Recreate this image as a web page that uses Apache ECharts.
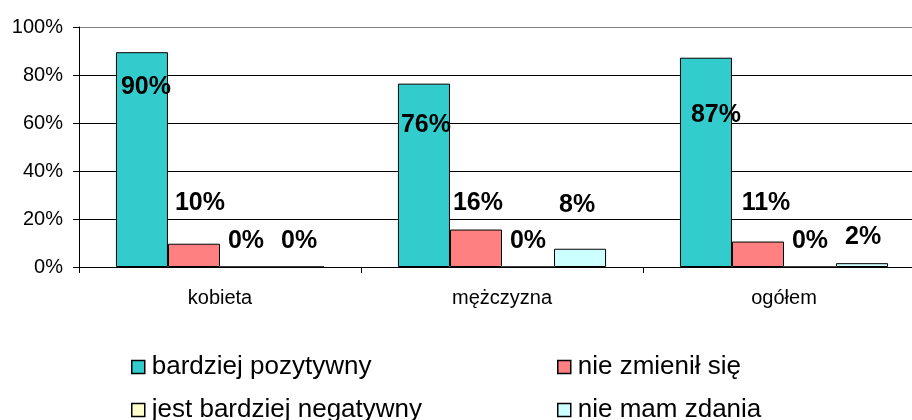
<!DOCTYPE html>
<html>
<head>
<meta charset="utf-8">
<script src="https://cdn.jsdelivr.net/npm/echarts@6/dist/echarts.min.js"></script>
<style>
html,body{margin:0;padding:0;background:#fff;}
#chart{width:912px;height:420px;}
</style>
</head>
<body>
<div id="chart"></div>
<script>
// ---- data ----
const categories = ['kobieta', 'mężczyzna', 'ogółem'];
const seriesNames = ['bardziej pozytywny', 'nie zmienił się', 'jest bardziej negatywny', 'nie mam zdania'];
const bardziejPozytywny = [89.5, 76.4, 87.2];
const nieZmienilSie = [9.7, 15.6, 10.6];
const bardziejNegatywny = [0, 0, 0];
const nieMamZdania = [0, 7.6, 1.6];
const yTicks = [0, 20, 40, 60, 80, 100];

// ---- layout / style (not data) ----
const colors = ['#33CCCC', '#FF8080', '#FFFFCC', '#CCFFFF'];
// label offsets [dx, dy] relative to the 'top' position of each bar
const labelOffsets = [
  [[4, 47], [2, 54], [10, 70]],
  [[6, -28], [2, -14], [8, -26]],
  [[0, -13], [0, -13], [0, -13]],
  [[1, -13], [-3, -31], [1, -14]]
];
const FONT = 'Arial, "Liberation Sans", sans-serif';

const allValues = [bardziejPozytywny, nieZmienilSie, bardziejNegatywny, nieMamZdania];

const series = allValues.map((vals, si) => ({
  name: seriesNames[si],
  type: 'bar',
  barGap: '0%',
  barCategoryGap: '26.2%',
  itemStyle: { color: colors[si], borderColor: '#000', borderWidth: 1 },
  data: vals.map((v, ci) => ({
    value: v,
    label: { offset: labelOffsets[si][ci] }
  })),
  label: {
    show: true,
    position: 'top',
    distance: 0,
    fontFamily: FONT,
    fontSize: 25,
    fontWeight: 'bold',
    color: '#000',
    formatter: p => Math.round(p.value) + '%'
  }
}));

const legendCommon = {
  top: 354,
  height: 100,
  orient: 'vertical',
  padding: 0,
  itemWidth: 13,
  itemHeight: 13,
  itemGap: 17,
  icon: 'rect',
  itemStyle: { borderColor: '#000', borderWidth: 1.5 },
  textStyle: { fontFamily: FONT, fontSize: 26, color: '#000', padding: [0, 0, 0, 2] }
};

const chart = echarts.init(document.getElementById('chart'), null, { renderer: 'canvas' });
chart.setOption({
  animation: false,
  backgroundColor: '#fff',
  color: colors,
  grid: { left: 79, width: 846, top: 27, height: 240, containLabel: false, outerBoundsMode: 'none' },
  legend: [
    Object.assign({}, legendCommon, { left: 131, data: [seriesNames[0], seriesNames[2]] }),
    Object.assign({}, legendCommon, { left: 557, data: [seriesNames[1], seriesNames[3]] })
  ],
  xAxis: {
    type: 'category',
    data: categories,
    axisLine: { lineStyle: { color: '#000', width: 1 } },
    axisTick: { show: true, length: 6, lineStyle: { color: '#000' } },
    axisLabel: { fontFamily: FONT, fontSize: 20, color: '#000', margin: 21 }
  },
  yAxis: {
    type: 'value',
    min: yTicks[0],
    max: yTicks[yTicks.length - 1],
    interval: yTicks[1] - yTicks[0],
    axisLine: { show: true, lineStyle: { color: '#000', width: 1 } },
    axisTick: { show: true, length: 6, lineStyle: { color: '#000' } },
    axisLabel: { fontFamily: FONT, fontSize: 20, color: '#000', margin: 16, formatter: v => v + '%' },
    splitLine: { show: true, lineStyle: { color: ['#000', '#000', '#000', '#000', '#000', '#808080'], width: 1 } }
  },
  series: series
});
</script>
</body>
</html>
